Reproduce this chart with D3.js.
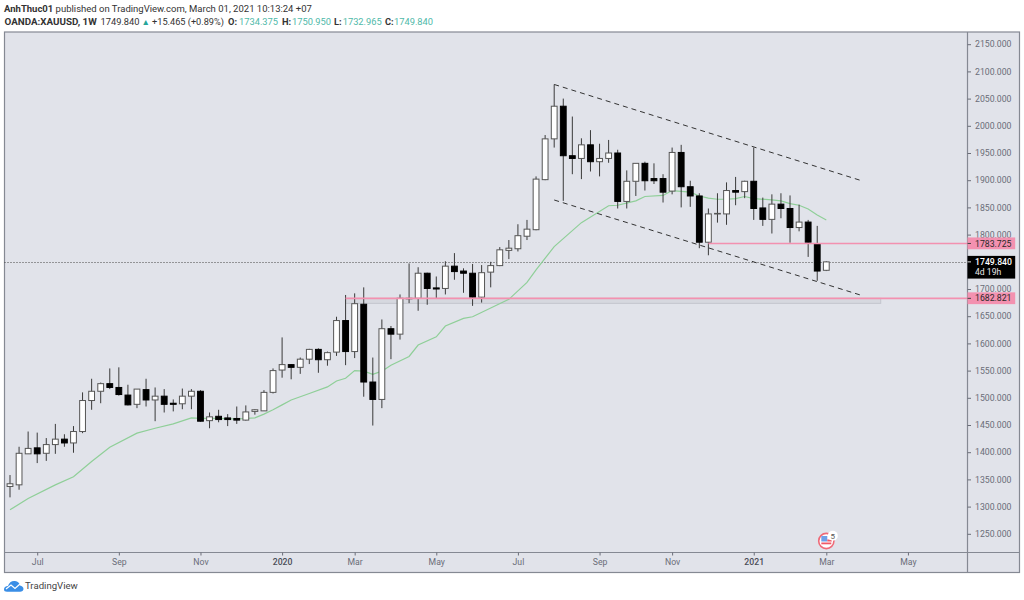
<!DOCTYPE html>
<html>
<head>
<meta charset="utf-8">
<script src="https://cdnjs.cloudflare.com/ajax/libs/d3/7.8.5/d3.min.js"></script>
<style>
html,body{margin:0;padding:0;background:#fff;overflow:hidden}
svg{display:block}
text{font-family:Roboto,"Open Sans",sans-serif}
</style>
</head>
<body>
<svg id="chart" width="1024" height="600"></svg>
<script>
const weeks = ["2019-06-10","2019-06-17","2019-06-24","2019-07-01","2019-07-08","2019-07-15","2019-07-22","2019-07-29","2019-08-05","2019-08-12","2019-08-19","2019-08-26","2019-09-02","2019-09-09","2019-09-16","2019-09-23","2019-09-30","2019-10-07","2019-10-14","2019-10-21","2019-10-28","2019-11-04","2019-11-11","2019-11-18","2019-11-25","2019-12-02","2019-12-09","2019-12-16","2019-12-23","2019-12-30","2020-01-06","2020-01-13","2020-01-20","2020-01-27","2020-02-03","2020-02-10","2020-02-17","2020-02-24","2020-03-02","2020-03-09","2020-03-16","2020-03-23","2020-03-30","2020-04-06","2020-04-13","2020-04-20","2020-04-27","2020-05-04","2020-05-11","2020-05-18","2020-05-25","2020-06-01","2020-06-08","2020-06-15","2020-06-22","2020-06-29","2020-07-06","2020-07-13","2020-07-20","2020-07-27","2020-08-03","2020-08-10","2020-08-17","2020-08-24","2020-08-31","2020-09-07","2020-09-14","2020-09-21","2020-09-28","2020-10-05","2020-10-12","2020-10-19","2020-10-26","2020-11-02","2020-11-09","2020-11-16","2020-11-23","2020-11-30","2020-12-07","2020-12-14","2020-12-21","2020-12-28","2021-01-04","2021-01-11","2021-01-18","2021-01-25","2021-02-01","2021-02-08","2021-02-15","2021-02-22","2021-03-01"];
const opens = [1337,1340,1397,1408,1398,1414,1424,1417,1438,1495,1512,1526,1519,1505,1488,1515,1496,1503,1490,1489,1503,1512,1458,1466,1463,1462,1459,1475,1476,1510,1551,1561,1556,1571,1589,1570,1584,1642,1585,1672,1529,1497,1627,1617,1682,1683,1729,1702,1701,1742,1733,1729,1685,1731,1743,1771,1774,1797,1809,1901,1976,2036,1945,1940,1965,1934,1940,1950,1861,1898,1931,1903,1903,1880,1951,1888,1871,1786,1838,1838,1881,1879,1898,1849,1828,1856,1848,1813,1823,1783,1734.375];
const highs = [1358,1410,1438,1436,1426,1452,1433,1448,1510,1535,1528,1554,1556,1524,1516,1535,1519,1516,1497,1517,1516,1514,1473,1478,1470,1484,1486,1479,1514,1554,1611,1562,1574,1590,1591,1585,1649,1689,1692,1703,1574,1644,1632,1690,1747,1740,1730,1723,1751,1766,1738,1746,1744,1750,1777,1790,1819,1827,1907,1983,2076,2050,2017,1977,1992,1967,1974,1956,1918,1931,1934,1931,1911,1960,1965,1899,1876,1848,1876,1896,1906,1899,1960,1868,1874,1876,1872,1855,1827,1816,1750.95];
const lows = [1317,1331,1397,1380,1384,1397,1410,1399,1435,1478,1490,1516,1504,1486,1481,1484,1457,1473,1475,1479,1479,1456,1444,1455,1448,1452,1458,1469,1476,1508,1537,1534,1544,1562,1546,1559,1577,1560,1573,1502,1449,1481,1571,1607,1674,1660,1671,1683,1690,1717,1693,1669,1675,1703,1742,1755,1769,1790,1808,1900,1960,1862,1911,1902,1916,1907,1932,1848,1848,1871,1881,1893,1859,1874,1850,1851,1775,1762,1822,1818,1854,1867,1827,1816,1802,1830,1785,1806,1759,1715,1732.965];
const closes = [1342,1398,1407,1397,1414,1424,1417,1438,1495,1512,1526,1519,1506,1487,1516,1496,1503,1488,1488,1503,1512,1457,1465,1460,1460,1459,1474,1478,1510,1550,1561,1556,1571,1589,1570,1583,1642,1585,1673,1529,1497,1627,1617,1683,1683,1729,1701,1700,1742,1732,1729,1685,1730,1743,1772,1775,1798,1810,1902,1976,2036,1945,1940,1965,1934,1940,1950,1861,1898,1931,1899,1899,1878,1951,1888,1871,1786,1838,1839,1881,1878,1898,1848,1828,1856,1848,1813,1823,1786,1733,1749.84];
const maWeekIndex = [0,2,5,7,9,11,14,16,18,20,21,23,25,27,28,29,30,31,33,35,36,37,38,39,40,41,42,44,45,47,48,50,51,53,55,57,58,60,63,66,67,69,70,72,73,75,76,77,78,79,80,81,82,84,85,86,87,88,89,90];
const maValues = [1294,1315,1340,1355,1383,1409,1435,1444,1452,1463,1462,1462,1461,1463,1470,1478,1487,1496,1508,1520,1531,1536,1550,1549,1543,1549,1560,1576,1597,1612,1632,1646,1649,1665,1681,1712,1735,1778,1822,1853,1854,1862,1870,1872,1881,1878,1871,1867,1865,1865,1866,1870,1866,1864,1862,1857,1854,1847,1836,1827];
const priceTicks = [2150,2100,2050,2000,1950,1900,1850,1800,1750,1700,1650,1600,1550,1500,1450,1400,1350,1300,1250];
const dateTicks = ["2019-07-01","2019-09-02","2019-11-04","2020-01-06","2020-03-02","2020-05-04","2020-07-06","2020-09-07","2020-11-02","2021-01-04","2021-03-01","2021-05-03"];
const dateLabels = ["Jul","Sep","Nov","2020","Mar","May","Jul","Sep","Nov","2021","Mar","May"];
const channelDates = ["2020-08-03","2021-03-29"];
const channelUpper = [2076,1898.5];
const channelLower = [1863.6,1687.7];
const lastPrice = 1749.84;
const level1 = 1783.725, level1Start = "2020-11-30";
const level2 = 1682.821, level2Start = "2020-02-24";
const zoneBottom = 1673.6, zoneEnd = "2021-04-12";

const parse = d3.utcParse("%Y-%m-%d");
const svg = d3.select("#chart");
const x = d3.scaleUtc().domain([parse(weeks[0]), parse(weeks[weeks.length-1])]).range([10, 826.3]);
const y = d3.scaleLinear().domain([1700,2150]).range([289,44.2]);
const P = {l:4.5,t:32,r:967.5,b:552.5,fr:1019.5,fb:572.5};
const frame="#858993", bg="#e1e3ea", axisText="#6a6d78", pink="#f391b0";
const axisSize = 8.7;

svg.append("rect").attr("x",P.l).attr("y",P.t).attr("width",P.fr-P.l).attr("height",P.fb-P.t)
  .attr("fill",bg).attr("stroke",frame).attr("stroke-width",1.2);
svg.append("line").attr("x1",P.r).attr("x2",P.r).attr("y1",P.t).attr("y2",P.fb).attr("stroke",frame).attr("stroke-width",1.2);
svg.append("line").attr("x1",P.l).attr("x2",P.fr).attr("y1",P.b).attr("y2",P.b).attr("stroke",frame).attr("stroke-width",1.2);

// price axis
const yAxis = d3.axisRight(y).tickValues(priceTicks).tickSize(3.5).tickPadding(4).tickFormat(d3.format(".3f"));
const gy = svg.append("g").attr("transform",`translate(${P.r},0)`).call(yAxis);
gy.select(".domain").remove();
gy.selectAll("line").attr("stroke","#6a6d78");
gy.selectAll("text").attr("font-size",axisSize).attr("fill",axisText);

// time axis
const xAxis = d3.axisBottom(x).tickValues(dateTicks.map(parse)).tickSize(3).tickPadding(3.5).tickFormat((d,i)=>dateLabels[i]);
const gx = svg.append("g").attr("transform",`translate(0,${P.b})`).call(xAxis);
gx.select(".domain").remove();
gx.selectAll("line").attr("stroke","#6a6d78");
gx.selectAll("text").attr("font-size",axisSize)
  .attr("font-weight",(d,i)=>/^20/.test(dateLabels[i])?500:400)
  .attr("fill",(d,i)=>/^20/.test(dateLabels[i])?"#4a4d58":axisText);

// zone
svg.append("rect").attr("x",x(parse(level2Start))).attr("y",y(level2))
  .attr("width",x(parse(zoneEnd))-x(parse(level2Start))).attr("height",y(zoneBottom)-y(level2))
  .attr("fill","#d6d8df").attr("stroke","#c3c6ce");

// last price dotted
svg.append("line").attr("x1",P.l).attr("x2",P.r).attr("y1",Math.round(y(lastPrice))+0.5).attr("y2",Math.round(y(lastPrice))+0.5)
  .attr("stroke","#444").attr("stroke-dasharray","1 2").attr("stroke-width",1);

// MA
const maLine = d3.line().x(d=>x(parse(weeks[d[0]]))).y(d=>y(d[1]));
svg.append("path").attr("d",maLine(maWeekIndex.map((w,i)=>[w,maValues[i]])))
  .attr("fill","none").attr("stroke","#8fcf98").attr("stroke-width",1.2);

// candles
const idx = d3.range(weeks.length);
const cw = 5.8;
const c = svg.append("g").selectAll("g").data(idx).join("g");
c.append("line").attr("x1",i=>x(parse(weeks[i]))).attr("x2",i=>x(parse(weeks[i])))
  .attr("y1",i=>y(highs[i])).attr("y2",i=>y(lows[i])).attr("stroke","#3a3a3a").attr("stroke-width",1);
c.append("rect").attr("x",i=>x(parse(weeks[i]))-cw/2).attr("width",cw)
  .attr("y",i=>y(Math.max(opens[i],closes[i])))
  .attr("height",i=>Math.max(0.6,Math.abs(y(opens[i])-y(closes[i]))))
  .attr("fill",i=>closes[i]>=opens[i]?"#fff":"#000")
  .attr("stroke",i=>closes[i]>=opens[i]?"#555":"#000").attr("stroke-width",1);

// channel
[channelUpper,channelLower].forEach(v=>{
  svg.append("line").attr("x1",x(parse(channelDates[0]))).attr("x2",x(parse(channelDates[1])))
    .attr("y1",y(v[0])).attr("y2",y(v[1])).attr("stroke","#333").attr("stroke-width",1).attr("stroke-dasharray","5 4");
});

// pink levels
[[level1,level1Start],[level2,level2Start]].forEach(l=>{
  svg.append("line").attr("x1",x(parse(l[1]))).attr("x2",P.r).attr("y1",y(l[0])).attr("y2",y(l[0]))
    .attr("stroke",pink).attr("stroke-width",1.6);
  const g = svg.append("g");
  g.append("rect").attr("x",P.r).attr("y",y(l[0])-6).attr("width",47.7).attr("height",11.8).attr("fill",pink);
  g.append("line").attr("x1",P.r).attr("x2",P.r+3.5).attr("y1",y(l[0])).attr("y2",y(l[0])).attr("stroke","#444");
  g.append("text").attr("x",P.r+7.5).attr("y",y(l[0])+3.1).attr("font-size",axisSize).attr("fill","#2a2a2a").text(d3.format(".3f")(l[0]));
});

// last price tag
const tag = svg.append("g");
tag.append("rect").attr("x",P.r).attr("y",y(lastPrice)-6).attr("width",47.7).attr("height",22.7).attr("fill","#000");
tag.append("line").attr("x1",P.r).attr("x2",P.r+3.5).attr("y1",y(lastPrice)).attr("y2",y(lastPrice)).attr("stroke","#ddd");
tag.append("text").attr("x",P.r+7.5).attr("y",y(lastPrice)+3.1).attr("font-size",axisSize).attr("font-weight",500).attr("fill","#fff").text(d3.format(".3f")(lastPrice));
tag.append("text").attr("x",P.r+7.5).attr("y",y(lastPrice)+13.6).attr("font-size",8.6).attr("fill","#e8e8e8").text("4d 19h");

// event icon
const ev = svg.append("g").attr("transform",`translate(${x(parse(weeks[weeks.length-1]))},541)`);
ev.append("circle").attr("r",7.6).attr("fill","#fff").attr("stroke","#ef6a78").attr("stroke-width",1.6);
ev.append("rect").attr("x",-5).attr("y",-5).attr("width",6).attr("height",5.5).attr("fill","#6f9fe8");
ev.append("rect").attr("x",1).attr("y",-1.5).attr("width",4.5).attr("height",2).attr("fill","#ef5a68");
ev.append("rect").attr("x",-5).attr("y",1.5).attr("width",10).attr("height",1.8).attr("fill","#ef5a68");
ev.append("circle").attr("cx",6.5).attr("cy",-5.3).attr("r",5).attr("fill","#fff");
ev.append("text").attr("x",6.5).attr("y",-2.4).attr("text-anchor","middle").attr("font-size",8).attr("fill","#555").text("5");

// header
const h1 = svg.append("text").attr("x",4).attr("y",12).attr("font-size",9.5).attr("fill","#333");
h1.append("tspan").attr("font-weight",700).text("AnhThuc01");
h1.append("tspan").text(" published on TradingView.com, March 01, 2021 10:13:24 +07");
const teal="#4fb9a9", dark="#333", teal2="#26a69a";
const headerPieces = [
  ["OANDA:XAUUSD, 1W",4.5,700,9.8,dark],["1749.840",100.5,400,9.3,dark],["▲",141.5,400,8.5,teal2],["+15.465 (+0.89%)",152,400,9.2,dark],
  ["O:",228,700,9.3,dark],["1734.375",239,400,9.3,teal],["H:",282,700,9.3,dark],["1750.950",292,400,9.3,teal],
  ["L:",334,700,9.3,dark],["1732.965",342.7,400,9.3,teal],["C:",385,700,9.3,dark],["1749.840",394,400,9.3,teal]];
svg.append("g").selectAll("text").data(headerPieces).join("text")
  .attr("x",d=>d[1]).attr("y",25).attr("font-weight",d=>d[2]).attr("font-size",d=>d[3]).attr("fill",d=>d[4]).text(d=>d[0]);

// logo
const logo = svg.append("g").attr("transform","translate(4,579.5)");
logo.append("path").attr("d","M0 10 C0 8 1.5 6.5 4 6.5 C5 3 8 1 11 1.5 C14 2 15.5 3.5 16 6 C18 6.2 19.5 8 19.5 9.5 C19.5 11 18 12.3 16 12.3 L3 12.3 C1 12.3 0 11.3 0 10 Z").attr("fill","#3a8ee6");
logo.append("path").attr("d","M2 9.5 L7 5.5 L11 9 L16 4.5").attr("fill","none").attr("stroke","#fff").attr("stroke-width",1.3);
svg.append("text").attr("x",25).attr("y",589).attr("font-size",9.6).attr("fill","#444").text("TradingView");
</script>
</body>
</html>
